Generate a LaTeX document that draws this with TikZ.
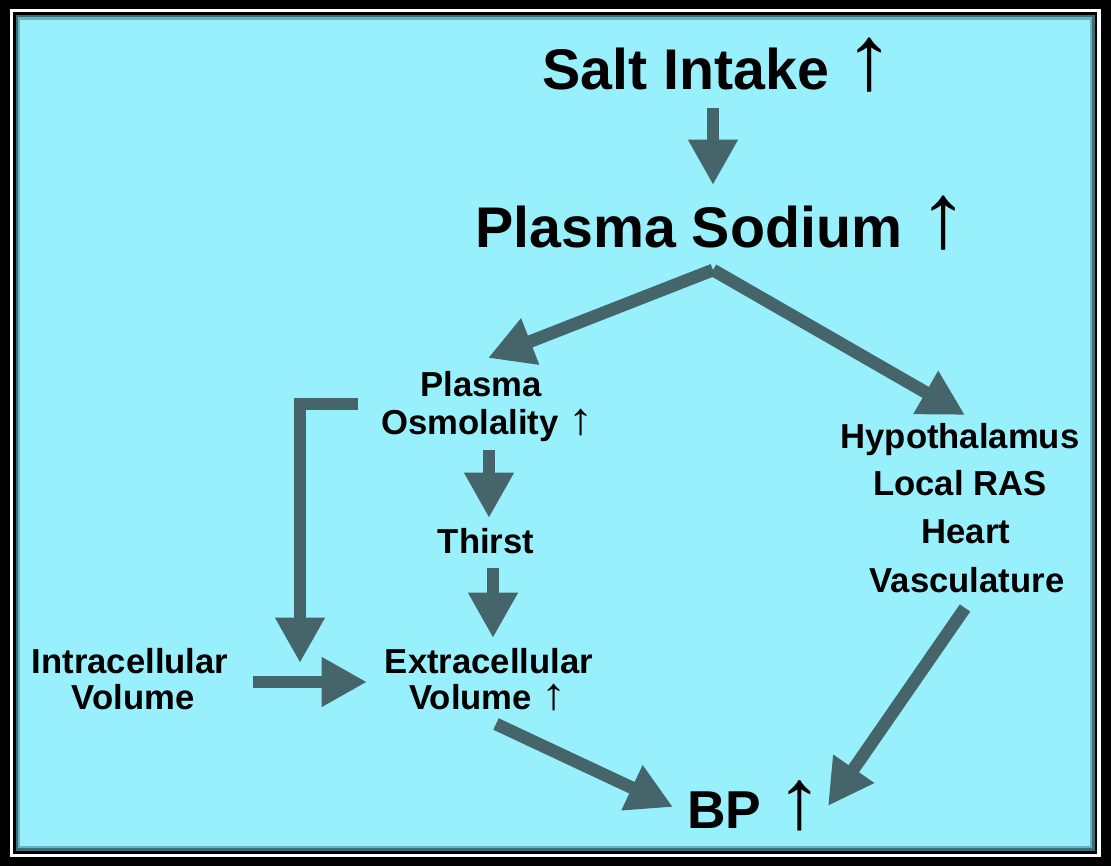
\documentclass[tikz,border=0pt]{standalone}
\usepackage{fontspec}
\setmainfont{Liberation Sans}
\usetikzlibrary{arrows.meta}
\definecolor{bgcyan}{RGB}{152,240,252}
\definecolor{arrowc}{RGB}{69,101,106}
\definecolor{shadowA}{RGB}{60,110,118}
\definecolor{shadowB}{RGB}{105,180,192}
\newcommand\uparr{{\mdseries\scalebox{1.75}[1.6]{↑}}}
\newcommand\uparrs{{\mdseries\scalebox{1.45}[1.3]{↑}}}
\begin{document}
\begin{tikzpicture}[x=0.75pt,y=-0.75pt,
  fat/.style={draw=arrowc, line width=9.5pt, line join=miter, -{Triangle[width=35pt,length=34pt]}},
  bigtxt/.style={font=\bfseries\fontsize{43}{50}\selectfont, anchor=base west, inner sep=0pt},
  bptxt/.style={font=\bfseries\fontsize{40}{46}\selectfont, anchor=base west, inner sep=0pt},
  midtxt/.style={font=\bfseries\fontsize{26}{30}\selectfont, anchor=base, inner sep=0pt},
  midw/.style={midtxt, anchor=base west}]
\useasboundingbox (0,0) rectangle (1111,866);
% frame
\fill[black] (0,0) rectangle (1111,866);
\fill[white] (10,9.5) rectangle (1100.5,856.5);
\fill[black] (13,12.5) rectangle (1096.5,853.5);
\fill[shadowA] (15.5,15) rectangle (1094.5,850.5);
\fill[shadowB] (17.5,17.5) rectangle (1092,848);
\fill[bgcyan] (20,20) rectangle (1090,846);
% texts
\node[bigtxt] (salt) at (542,90) {Salt Intake \uparr};
\node[bigtxt] (sodium) at (475,248) {Plasma Sodium \uparr};
\node[midtxt] (osm1) at (481,397) {Plasma};
\node[midw] (osm2) at (381,435) {Osmolality \uparrs};
\node[midtxt] (thirst) at (486,553) {Thirst};
\node[midtxt] (ecv1) at (489,673) {Extracellular};
\node[midw] (ecv2) at (409,709) {Volume \uparrs};
\node[midtxt] (icv1) at (130,673) {Intracellular};
\node[midtxt] (icv2) at (133,709) {Volume};
\node[midtxt] (hyp) at (960,448) {Hypothalamus};
\node[midtxt] (ras) at (960,495) {Local RAS};
\node[midtxt] (heart) at (966,543) {Heart};
\node[midtxt] (vasc) at (967,592) {Vasculature};
\node[bptxt] (bp) at (687,828) {BP \uparr};
% connector end points
\coordinate (saltout) at (713,108);
\coordinate (sodiumin) at (713,185);
\coordinate (split) at (713,270);
\coordinate (osmin) at (488,358);
\coordinate (hypin) at (965,415);
\coordinate (brstart) at (358,404);
\coordinate (brcorner) at (300,404);
\coordinate (brtip) at (300,663);
\coordinate (osmout) at (489,450);
\coordinate (thirstin) at (489,518);
\coordinate (thirstout) at (493,568);
\coordinate (ecvin) at (493,638);
\coordinate (icvout) at (253,682);
\coordinate (ecvleft) at (367,682);
\coordinate (ecvout) at (496,724);
\coordinate (bpleft) at (673,807);
\coordinate (vascout) at (965,608);
\coordinate (bpright) at (828,806);
% connectors
\draw[fat] (saltout) -- (sodiumin);
\draw[fat] (split) -- (osmin);
\draw[fat] (split) -- (hypin);
\draw[fat] (brstart) -- (brcorner) -- (brtip);
\draw[fat] (osmout) -- (thirstin);
\draw[fat] (thirstout) -- (ecvin);
\draw[fat] (icvout) -- (ecvleft);
\draw[fat] (ecvout) -- (bpleft);
\draw[fat] (vascout) -- (bpright);
\end{tikzpicture}
\end{document}
